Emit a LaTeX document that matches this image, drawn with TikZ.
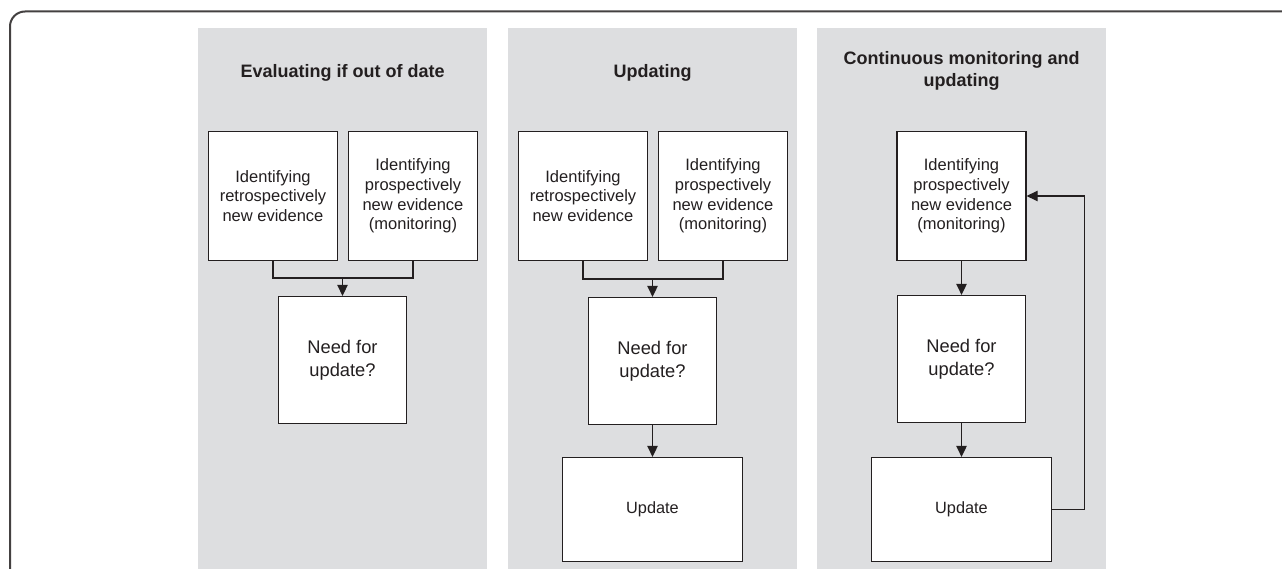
\documentclass[tikz,border=0pt]{standalone}
\usepackage{fontspec}
\setmainfont{Liberation Sans}
\usepackage{xcolor}
\usepackage{tikz}
\usetikzlibrary{positioning,calc,arrows.meta}
\definecolor{panelgray}{RGB}{221,222,224}
\definecolor{inkdark}{RGB}{35,31,32}

\begin{document}
\begin{tikzpicture}[x=1pt, y=-1pt,
    panel/.style={fill=panelgray},
    frame/.style={draw=inkdark!85, line width=2pt, rounded corners=15pt},
    heading/.style={font=\bfseries\fontsize{18}{22.4}\selectfont, align=center, text=inkdark},
    sqbox/.style={draw=inkdark, fill=white, line width=1.3pt, minimum width=129pt, minimum height=129pt, inner sep=0pt, align=center, text=inkdark, font=\fontsize{16.5}{19.6}\selectfont},
    needbox/.style={sqbox, minimum width=128pt, minimum height=127pt, font=\fontsize{18.3}{23}\selectfont},
    updbox/.style={sqbox, minimum width=180pt, minimum height=104pt, font=\fontsize{16.3}{19.6}\selectfont},
    line/.style={draw=inkdark, line width=1.3pt},
    arr/.style={line, -{Triangle[length=11pt,width=10.5pt]}}]
    \useasboundingbox (0,0) rectangle (1282,569);
    \clip (0,0) rectangle (1282,569);
    \draw[frame] (10,620) -- (10,11.5) -- (1320,11.5);
    \fill[panel] (198,28) rectangle (487,569);
    \fill[panel] (508,28) rectangle (797,569);
    \fill[panel] (817,28) rectangle (1106,569);

    \node[heading] (titleA) at (342.5,72.6) {Evaluating if out of date};
    \node[heading] (titleB) at (652.5,72.6) {Updating};
    \node[heading] (titleC) at (961.5,70.9) {Continuous monitoring and\\updating};

    % evaluating
    \node[sqbox] (retroA) at (273,196) {Identifying\\retrospectively\\new evidence};
    \node[sqbox] (prosA) at (413,196) {Identifying\\prospectively\\new evidence\\(monitoring)};
    \node[needbox] (needA) at (342.5,360) {Need for\\update?};
    \coordinate (mergeA) at (342.5,278);
    \draw[line] (retroA.south) |- (mergeA) -| (prosA.south);
    \draw[arr] (mergeA) -- (needA);

    % updating
    \node[sqbox] (retroB) at (583,196) {Identifying\\retrospectively\\new evidence};
    \node[sqbox] (prosB) at (723,196) {Identifying\\prospectively\\new evidence\\(monitoring)};
    \node[needbox] (needB) at (652.5,361) {Need for\\update?};
    \node[updbox] (updB) at (652.5,509.5) {Update};
    \coordinate (mergeB) at (652.5,279);
    \draw[line] (retroB.south) |- (mergeB) -| (prosB.south);
    \draw[arr] (mergeB) -- (needB);
    \draw[arr] (needB) -- (updB);

    % continuous
    \node[sqbox] (prosC) at (961.5,196) {Identifying\\prospectively\\new evidence\\(monitoring)};
    \node[needbox] (needC) at (961.5,359) {Need for\\update?};
    \node[updbox] (updC) at (961.5,509.5) {Update};
    \draw[arr] (prosC) -- (needC);
    \draw[arr] (needC) -- (updC);
    \draw[arr] (updC.east) -- ++(32,0) |- (prosC.east);
\end{tikzpicture}
\end{document}
